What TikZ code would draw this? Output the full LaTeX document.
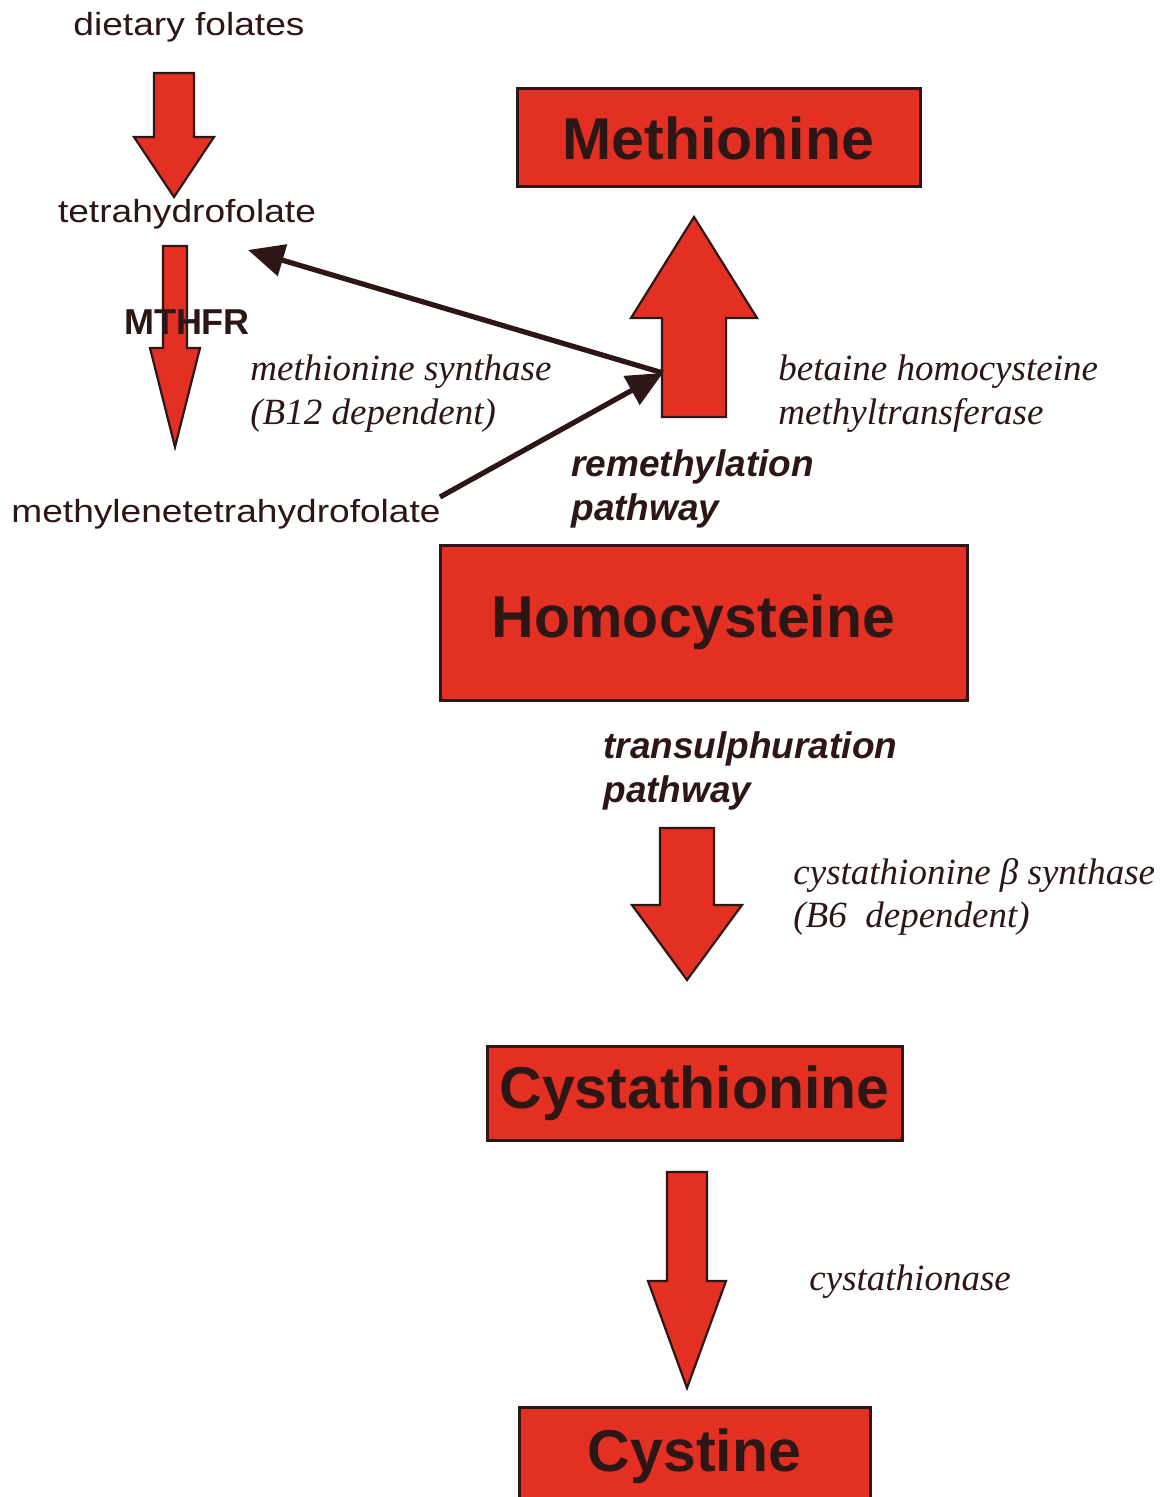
\documentclass[tikz,border=0pt]{standalone}
\usepackage{fontspec}
\setmainfont{Liberation Sans}
\newfontfamily\widesans[FakeStretch=1.16]{Liberation Sans}
\newfontfamily\enzserif{Liberation Serif}
\usetikzlibrary{arrows.meta}
\definecolor{boxred}{RGB}{228,48,34}
\definecolor{inkdark}{RGB}{45,22,22}

\begin{document}
\begin{tikzpicture}[x=0.5pt,y=-0.5pt,
  metab/.style={draw=inkdark,line width=1.5pt,fill=boxred,inner sep=0pt,text=inkdark,
    font=\fontsize{29.5}{32}\selectfont\bfseries},
  fatarrow/.style={draw=inkdark,line width=1.1pt,fill=boxred,line join=miter},
  lbl/.style={text=inkdark,inner sep=0pt,font=\widesans\fontsize{16}{18}\selectfont},
  enz/.style={text=inkdark,inner sep=0pt,align=left,
    font=\enzserif\itshape\fontsize{18.5}{21.5}\selectfont},
  pathlbl/.style={text=inkdark,inner sep=0pt,align=left,
    font=\bfseries\itshape\fontsize{18.5}{22}\selectfont},
  conn/.style={draw=inkdark,line width=2.6pt,-{Triangle[length=18pt,width=16pt]}}]
\fill[white] (0,0) rectangle (1164,1497);
\useasboundingbox (0,0) rectangle (1164,1497);

% folate side
\node[lbl,anchor=base] (diet) at (189,36) {dietary folates};
\node[lbl,anchor=base] (thf) at (187,223) {tetrahydrofolate};
\node[lbl,anchor=base] (mthf) at (226,522) {methylenetetrahydrofolate};

% metabolites
\node[metab,minimum width=201.5pt,minimum height=49pt] (met) at (718.5,138) {Methionine};
\node[metab,minimum width=263.5pt,minimum height=77.5pt] (hcy) at (703.5,622.5) {Homocysteine\hspace*{10pt}};
\node[metab,minimum width=207.5pt,minimum height=47pt] (cth) at (694.5,1093) {Cystathionine};
\node[metab,minimum width=175.5pt,minimum height=49pt] (cys) at (694.5,1456) {Cystine};

% block arrows: centre / half shaft / tail / head base / half head / tip
\foreach \cx/\sw/\ya/\yb/\hw/\yc in {174/20/73/137/40/197,175/12/246/348/25/447,
    694/32/417/318/63/217,687/27/828/905/55/980,687/20/1172/1281/39/1388}{
  \draw[fatarrow] (\cx-\sw,\ya) -- (\cx+\sw,\ya) -- (\cx+\sw,\yb) -- (\cx+\hw,\yb)
    -- (\cx,\yc) -- (\cx-\hw,\yb) -- (\cx-\sw,\yb) -- cycle;
}
\node[text=inkdark,inner sep=0pt,anchor=base,font=\bfseries\fontsize{18}{20}\selectfont]
  (mthfr) at (187,335) {MTHFR};

% methionine synthase connectors
\coordinate (remeth) at (663,373);
\coordinate (thfin) at (248,250);
\coordinate (mthfout) at (440,497);
\draw[conn] (remeth) -- (thfin);
\draw[conn] (mthfout) -- (remeth);

% enzymes and pathways (base = last line)
\node[enz,anchor=base west] (msyn) at (250,424) {methionine synthase\\(B12 dependent)};
\node[enz,anchor=base west] (bhmt) at (778,424) {betaine homocysteine\\methyltransferase};
\node[enz,anchor=base west] (cbs) at (793,927) {cystathionine β synthase\\(B6\ \ dependent)};
\node[enz,anchor=base west] (cgl) at (809,1290) {cystathionase};
\node[pathlbl,anchor=base west] (remlbl) at (571,520) {remethylation\\pathway};
\node[pathlbl,anchor=base west] (tslbl) at (603,802) {transulphuration\\pathway};
\end{tikzpicture}
\end{document}
